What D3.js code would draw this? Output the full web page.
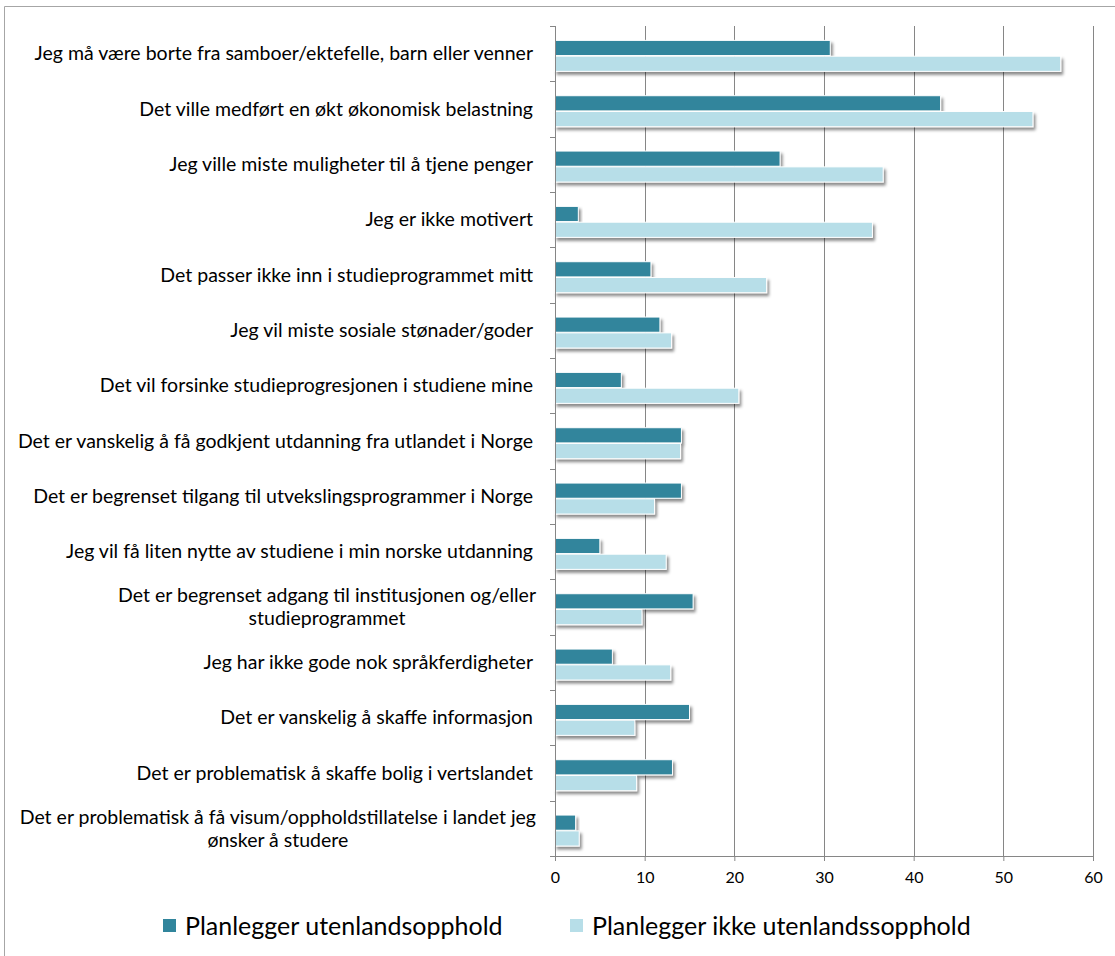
<!DOCTYPE html>
<html>
<head>
<meta charset="utf-8">
<script src="https://cdn.jsdelivr.net/npm/d3@7/dist/d3.min.js"></script>
<style>
  body { margin: 0; background: #fff; }
  svg { display: block; font-family: Lato, "Open Sans", sans-serif; }
</style>
</head>
<body>
<svg id="chart"></svg>
<script>
// categories, top to bottom ("|" marks a line break)
var categories = [
  "Jeg må være borte fra samboer/ektefelle, barn eller venner",
  "Det ville medført en økt økonomisk belastning",
  "Jeg ville miste muligheter til å tjene penger",
  "Jeg er ikke motivert",
  "Det passer ikke inn i studieprogrammet mitt",
  "Jeg vil miste sosiale stønader/goder",
  "Det vil forsinke studieprogresjonen i studiene mine",
  "Det er vanskelig å få godkjent utdanning fra utlandet i Norge",
  "Det er begrenset tilgang til utvekslingsprogrammer i Norge",
  "Jeg vil få liten nytte av studiene i min norske utdanning",
  "Det er begrenset adgang til institusjonen og/eller|studieprogrammet",
  "Jeg har ikke gode nok språkferdigheter",
  "Det er vanskelig å skaffe informasjon",
  "Det er problematisk å skaffe bolig i vertslandet",
  "Det er problematisk å få visum/oppholdstillatelse i landet jeg|ønsker å studere"
];

var seriesNames = ["Planlegger utenlandsopphold", "Planlegger ikke utenlandssopphold"];

var planlegger = [30.7, 43.0, 25.1, 2.6, 10.7, 11.7, 7.4, 14.1, 14.1, 5.0, 15.4, 6.4, 15.0, 13.1, 2.3];
var planleggerIkke = [56.4, 53.3, 36.6, 35.4, 23.6, 13.0, 20.5, 14.0, 11.1, 12.4, 9.7, 12.9, 8.9, 9.1, 2.7];

var xTicks = [0, 10, 20, 30, 40, 50, 60];

var colors = ["#31859c", "#b7dee8"];

var width = 1115, height = 956;
var margins = { left: 555, right: 22, top: 26, bottom: 100 };
var innerWidth = width - margins.left - margins.right;
var innerHeight = height - margins.top - margins.bottom;

var rows = categories.map(function (c, i) {
  return { cat: c, values: [planlegger[i], planleggerIkke[i]] };
});

var svg = d3.select('svg#chart')
  .attr('width', width)
  .attr('height', height);

// drop shadow used by the bars
var defs = svg.append('defs');
var shadow = defs.append('filter')
  .attr('id', 'shadow')
  .attr('x', '-10%').attr('y', '-30%')
  .attr('width', '130%').attr('height', '180%');
shadow.append('feDropShadow')
  .attr('dx', 2).attr('dy', 3)
  .attr('stdDeviation', 1.6)
  .attr('flood-color', '#000')
  .attr('flood-opacity', 0.45);

// chart border (only top and left fall inside the picture)
svg.append('path')
  .attr('d', 'M4.5,' + height + 'V6.5H' + width)
  .attr('fill', 'none')
  .attr('stroke', '#a6a6a6');

var g = svg.append('g')
  .attr('transform', 'translate(' + margins.left + ',' + margins.top + ')');

var x = d3.scaleLinear()
  .domain([0, 60])
  .range([0, innerWidth]);

var y = d3.scaleBand()
  .domain(categories)
  .range([0, innerHeight]);

var groupTop = y.bandwidth() * 0.26;
var groupHeight = y.bandwidth() * 0.56;

var ySeries = d3.scaleBand()
  .domain(seriesNames)
  .range([0, groupHeight])
  .paddingInner(0.04);

// vertical gridlines
g.append('g')
  .selectAll('line')
  .data(xTicks.slice(1))
  .join('line')
  .attr('x1', function (d) { return Math.round(x(d)) + 0.5; })
  .attr('x2', function (d) { return Math.round(x(d)) + 0.5; })
  .attr('y1', 0)
  .attr('y2', innerHeight)
  .attr('stroke', '#868686')
  .attr('stroke-width', 1);

// bars
var groups = g.append('g')
  .selectAll('g')
  .data(rows)
  .join('g')
  .attr('transform', function (d) { return 'translate(0,' + (y(d.cat) + groupTop) + ')'; });

groups.selectAll('rect')
  .data(function (d) {
    return d.values.map(function (v, i) { return { series: seriesNames[i], value: v, idx: i }; });
  })
  .join('rect')
  .attr('x', 0)
  .attr('y', function (d) { return ySeries(d.series); })
  .attr('width', function (d) { return x(d.value); })
  .attr('height', ySeries.bandwidth())
  .attr('fill', function (d) { return colors[d.idx]; })
  .attr('stroke', '#fff')
  .attr('stroke-width', 1)
  .attr('filter', 'url(#shadow)');

// x axis
var xAxis = d3.axisBottom(x)
  .tickValues(xTicks)
  .tickSize(5)
  .tickPadding(11);

var gx = g.append('g')
  .attr('transform', 'translate(0,' + innerHeight + ')')
  .call(xAxis);
gx.select('.domain').attr('stroke', '#868686');
gx.selectAll('.tick line').attr('stroke', '#868686');
gx.selectAll('.tick text')
  .attr('fill', '#000')
  .style('font-size', '16px')
  .style('font-family', 'Lato, sans-serif');

// y axis line and boundary ticks
g.append('line')
  .attr('x1', 0.5).attr('x2', 0.5)
  .attr('y1', 0).attr('y2', innerHeight)
  .attr('stroke', '#868686');

var boundaries = categories.map(function (c) { return y(c); }).concat([innerHeight]);
g.append('g')
  .selectAll('line')
  .data(boundaries)
  .join('line')
  .attr('x1', -5).attr('x2', 0)
  .attr('y1', function (d) { return Math.round(d) + 0.5; })
  .attr('y2', function (d) { return Math.round(d) + 0.5; })
  .attr('stroke', '#868686');

// category labels (multi-line ones centred as a block, right aligned)
var labelRight = -22;
var lineHeight = 23;
var labels = g.append('g')
  .selectAll('text')
  .data(categories)
  .join('text')
  .attr('x', labelRight)
  .attr('fill', '#000')
  .style('font-size', '19.5px');

labels.each(function (c) {
  var lines = c.split('|');
  var t = d3.select(this);
  var cy = y(c) + y.bandwidth() / 2;
  var startY = cy - (lines.length - 1) * lineHeight / 2;
  t.attr('y', startY);
  var spans = lines.map(function (l, i) {
    return t.append('tspan')
      .attr('y', startY + i * lineHeight)
      .attr('dy', '0.35em')
      .text(l);
  });
  if (lines.length === 1) {
    t.attr('text-anchor', 'end');
    spans[0].attr('x', labelRight);
  } else {
    var w = spans[0].node().getComputedTextLength();
    var center = labelRight + 3 - w / 2;
    t.attr('text-anchor', 'middle').attr('x', center);
    spans.forEach(function (s) { s.attr('x', center); });
  }
});

// legend
var legend = svg.append('g')
  .attr('transform', 'translate(0,926)');

var legendX = [163, 570];
var items = legend.selectAll('g')
  .data(seriesNames)
  .join('g')
  .attr('transform', function (d, i) { return 'translate(' + legendX[i] + ',0)'; });

items.append('rect')
  .attr('x', 0).attr('y', -7)
  .attr('width', 13).attr('height', 13)
  .attr('fill', function (d, i) { return colors[i]; });

items.append('text')
  .attr('x', 22)
  .attr('dy', '0.35em')
  .attr('fill', '#000')
  .style('font-size', '25px')
  .text(function (d) { return d; });
</script>
</body>
</html>
